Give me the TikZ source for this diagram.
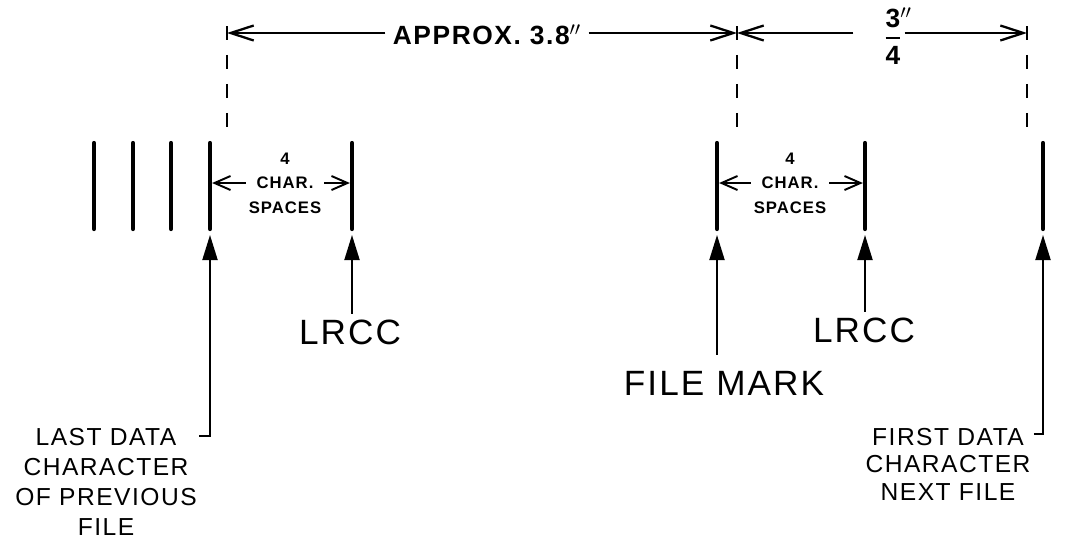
\documentclass[tikz,border=0pt]{standalone}
\usepackage{amsmath}
\usepackage{fontspec}
\setmainfont{Liberation Sans}[LetterSpace=6]
\usetikzlibrary{arrows.meta}
\tikzset{gap/.cd,
         bar/.style={line width=2.4pt,line cap=round},
         extension/.style={line width=1.1pt,dash pattern=on 8pt off 8.5pt},
         dim/.style={line width=1.3pt,-{Straight Barb[length=4.6mm,width=3mm]}},
         small dim/.style={line width=1.1pt,-{Straight Barb[length=3.2mm,width=2.8mm]},shorten >=1.2pt},
         pointer/.style={line width=1.1pt,-{Triangle[length=5mm,width=3mm]}},
         note/.style={inner sep=0pt,align=center,font=\fontsize{14}{17}\selectfont},
         big/.style={inner sep=3pt,font=\fontsize{20}{24}\selectfont},
         small/.style={inner sep=1.5pt,align=center,font=\fontsize{9.5}{14}\selectfont\bfseries}}

\begin{document}
\begin{tikzpicture}[x=0.02cm,y=-0.02cm]
\useasboundingbox (0,0) rectangle (1078,542);
\foreach \x/\name in {94/prevA,133/prevB,171/prevC,210/lastchar,352/lrccbarA,717/filemark,865/lrccbarB,1043/firstchar}{
  \draw[gap/bar] (\x,143) -- (\x,229);
  \coordinate (\name) at (\x,235);
}
\foreach \x/\name in {227/extA,737/extB,1027/extC}{
  \draw[gap/extension] (\x,26) -- (\x,132);
  \coordinate (\name) at (\x,33);
}
\node[inner xsep=4pt,inner ysep=0pt,font=\fontsize{15}{18}\selectfont\bfseries] (approx) at (487,35) {APPROX. 3.8$''$};
\draw[gap/dim] (approx.west |- extA) -- (extA);
\draw[gap/dim] (approx.east |- extB) -- (extB);
\node[inner xsep=1pt,inner ysep=0pt,font=\fontsize{15}{18}\selectfont\bfseries] (frac) at (893,36)
  {$\genfrac{}{}{1.3pt}{0}{\text{3}\makebox[0pt][l]{$''$}}{\text{4}}$};
\draw[gap/dim] ([shift={(-28,0)}]frac.west |- extB) -- (extB);
\draw[gap/dim] (frac.east |- extC) -- (extC);
\node[gap/small] (spaceA) at (285,183) {4\\CHAR.\\SPACES};
\draw[gap/small dim] (spaceA.west) -- (spaceA.west -| lastchar);
\draw[gap/small dim] (spaceA.east) -- (spaceA.east -| lrccbarA);
\node[gap/small] (spaceB) at (790,183) {4\\CHAR.\\SPACES};
\draw[gap/small dim] (spaceB.west) -- (spaceB.west -| filemark);
\draw[gap/small dim] (spaceB.east) -- (spaceB.east -| lrccbarB);
\node[gap/big] (lrccA) at (350,332) {LRCC};
\draw[gap/pointer] (lrccA.north -| lrccbarA) -- (lrccbarA);
\node[gap/big] (lrccB) at (864,330) {LRCC};
\draw[gap/pointer] (lrccB.north -| lrccbarB) -- (lrccbarB);
\node[gap/big] (mark) at (724,383) {FILE MARK};
\draw[gap/pointer,shorten <=6pt] (mark.north -| filemark) -- (filemark);
\node[gap/note,anchor=north] (lastnote) at (106,428) {LAST DATA\\CHARACTER\\OF PREVIOUS\\FILE};
\draw[gap/pointer] ([shift={(2,8)}]lastnote.north east) -| (lastchar);
\node[gap/note,anchor=north,font=\fontsize{14}{15.5}\selectfont] (firstnote) at (948,428) {FIRST DATA\\CHARACTER\\NEXT FILE};
\draw[gap/pointer] ([shift={(3,6)}]firstnote.north east) -| (firstchar);
\end{tikzpicture}
\end{document}
